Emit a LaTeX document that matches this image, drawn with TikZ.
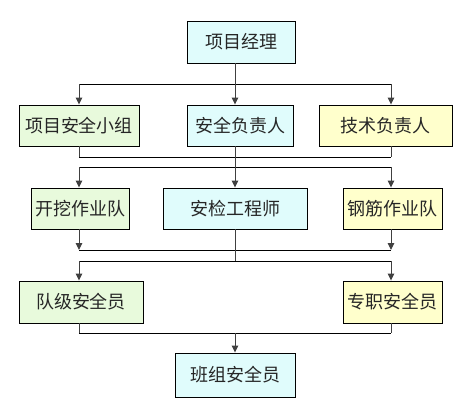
\documentclass[tikz,border=0pt]{standalone}
\usepackage{fontspec}
\newfontfamily\cjk{Noto Sans CJK SC}
\usetikzlibrary{positioning,arrows.meta}

\definecolor{boxgreen}{HTML}{E8FADC}
\definecolor{boxcyan}{HTML}{E0FCFC}
\definecolor{boxyellow}{HTML}{FFFFCC}

\tikzset{
  post/.style={draw=black,line width=0.9pt,inner sep=0pt,text=black!85,font=\cjk\fontsize{18}{18}\selectfont},
  wire/.style={line width=1pt,draw=black!75},
  feed/.style={wire,-{Triangle[length=7pt,width=6.5pt]}},
}

\begin{document}
\begin{tikzpicture}[x=1pt,y=-1pt]
  \useasboundingbox (0,0) rectangle (472,416);
  % boxes
  \node[post,fill=boxcyan,minimum width=108,minimum height=42] (pm) at (241,42) {项目经理};
  \node[post,fill=boxgreen,minimum width=120,minimum height=41] (group) at (79,125.5) {项目安全小组};
  \node[post,fill=boxcyan,minimum width=106,minimum height=41] (safety) at (240,125.5) {安全负责人};
  \node[post,fill=boxyellow,minimum width=133,minimum height=41] (tech) at (385.5,125.5) {技术负责人};
  \node[post,fill=boxgreen,minimum width=98,minimum height=41] (dig) at (80,208.5) {开挖作业队};
  \node[post,fill=boxcyan,minimum width=144,minimum height=41] (inspect) at (235,208.5) {安检工程师};
  \node[post,fill=boxyellow,minimum width=99,minimum height=41] (steel) at (392.5,208.5) {钢筋作业队};
  \node[post,fill=boxgreen,minimum width=124,minimum height=42] (team) at (81,302) {队级安全员};
  \node[post,fill=boxyellow,minimum width=99,minimum height=42] (full) at (392.5,302) {专职安全员};
  \node[post,fill=boxcyan,minimum width=120,minimum height=44] (crew) at (235,375) {班组安全员};
  % junctions
  \coordinate (aL) at (79,84);  \coordinate (aM) at (235,84);  \coordinate (aR) at (391,84);
  \coordinate (bL) at (79,157); \coordinate (bR) at (391,157);
  \coordinate (cL) at (79,167); \coordinate (cR) at (391,167);
  \coordinate (dL) at (79,250); \coordinate (dR) at (391,250);
  \coordinate (eL) at (79,261); \coordinate (eM) at (235,261); \coordinate (eR) at (391,261);
  \coordinate (fL) at (79,333); \coordinate (fM) at (235,333); \coordinate (fR) at (391,333);
  % level 1
  \draw[wire] (pm.south -| aM) -- (aM);
  \draw[wire,black] (aL) -- (aR);
  \draw[feed] (aL) -- (aL |- group.north);
  \draw[feed] (aM) -- (aM |- safety.north);
  \draw[feed] (aR) -- (aR |- tech.north);
  % level 2
  \draw[wire] (group.south -| bL) -- (bL);
  \draw[wire] (tech.south -| bR) -- (bR);
  \draw[wire,black] (bL) -- (bR);
  \draw[wire,black] (cL) -- (cR);
  \draw[feed] (safety.south -| aM) -- (aM |- inspect.north);
  \draw[feed] (cL) -- (cL |- dig.north);
  \draw[feed] (cR) -- (cR |- steel.north);
  % level 3
  \draw[feed] (dig.south -| dL) -- (dL);
  \draw[feed] (steel.south -| dR) -- (dR);
  \draw[wire,black] (dL) -- (dR);
  \draw[wire] (inspect.south -| eM) -- (eM);
  \draw[wire,black] (eL) -- (eR);
  \draw[feed] (eL) -- (eL |- team.north);
  \draw[feed] (eR) -- (eR |- full.north);
  % level 4
  \draw[wire] (team.south -| fL) -- (fL);
  \draw[wire] (full.south -| fR) -- (fR);
  \draw[wire,black] (fL) -- (fR);
  \draw[feed] (fM) -- (crew.north -| fM);
\end{tikzpicture}
\end{document}
